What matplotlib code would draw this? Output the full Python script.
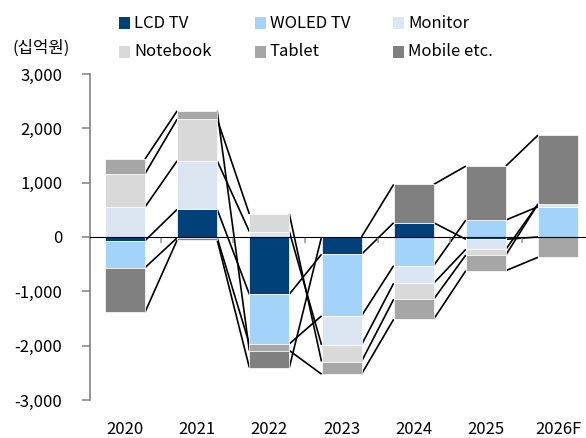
import matplotlib
matplotlib.use("Agg")
import matplotlib.pyplot as plt
from matplotlib.patches import Rectangle
from matplotlib.ticker import FuncFormatter
import numpy as np

plt.rcParams['font.family'] = ['Noto Sans CJK KR', 'DejaVu Sans']

years = ['2020', '2021', '2022', '2023', '2024', '2025', '2026F']
series_names = ['LCD TV', 'WOLED TV', 'Monitor', 'Notebook', 'Tablet', 'Mobile etc.']
lcd      = [-68,   509, -1053,  -318,  263,  -42,    0]
woled    = [-496,  -15,  -914, -1134, -527,  312,  557]
monitor  = [551,   894,   100,  -533, -324, -184,   50]
notebook = [613,   766,   323,  -307, -294, -105,    0]
tablet   = [270,   153,  -123,  -232, -368, -288, -373]
mobile   = [-820,  -40,  -312,     0,  705,  993, 1268]
colors = ['#004179', '#A3D3F8', '#DCE6F2', '#D9D9D9', '#A6A6A6', '#808080']
unit_label = '(십억원)'
yticks = [-3000, -2000, -1000, 0, 1000, 2000, 3000]

data = [lcd, woled, monitor, notebook, tablet, mobile]

W, H = 586, 438
fig = plt.figure(figsize=(W / 100, H / 100), dpi=100)
ax = fig.add_axes([90 / W, 1 - 400 / H, (586 - 90) / W, (400 - 74) / H])

x = np.arange(len(years))
bw = 0.554
pos = np.zeros(len(years))
neg = np.zeros(len(years))
ends = []
for vals, c in zip(data, colors):
    v = np.array(vals, dtype=float)
    bottom = np.where(v >= 0, pos, neg)
    ax.bar(x, v, bw, bottom=bottom, color=c, edgecolor='white', linewidth=0.5, zorder=2)
    end = bottom + v
    ends.append(end)
    pos = np.where(v >= 0, pos + v, pos)
    neg = np.where(v < 0, neg + v, neg)

for end in ends:
    for i in range(len(years) - 1):
        ax.plot([x[i] + bw / 2, x[i + 1] - bw / 2], [end[i], end[i + 1]],
                color='black', linewidth=1.2, zorder=1, solid_capstyle='butt')

ax.set_ylim(-3000, 3000)
ax.set_xlim((90 - 125) / 72.17, (586 - 125) / 72.17)
ax.set_yticks(yticks)
ax.yaxis.set_major_formatter(FuncFormatter(lambda v, p: f'{int(v):,}'))
ax.tick_params(axis='y', direction='out', length=6, width=1.1, color='#808080',
               labelsize=12, pad=14, labelcolor='black')
for s in ['top', 'right', 'bottom']:
    ax.spines[s].set_visible(False)
ax.spines['left'].set_color('#808080')
ax.spines['left'].set_linewidth(1.2)

ax.set_xticks(x)
ax.set_xticklabels(years)
ax.tick_params(axis='x', length=0, labelsize=12, pad=15)

sec = ax.secondary_xaxis(0.5)
sec.set_xticks(x[:-1] + 0.5)
sec.set_xticklabels([])
sec.tick_params(direction='in', length=4, width=1.1, color='#959595')
sec.spines['bottom'].set_color('#959595')
sec.spines['bottom'].set_linewidth(1.6)
sec.set_zorder(3)

fig.text(12 / W, 1 - 48 / H, unit_label, fontsize=12, va='center', ha='left')

leg_x = [119, 255, 393]
leg_y = [23, 52]
for k, (name, c) in enumerate(zip(series_names, colors)):
    r, col = divmod(k, 3)
    px, py = leg_x[col], leg_y[r]
    fig.add_artist(Rectangle((px / W, 1 - (py + 5.5) / H), 11 / W, 11 / H,
                             transform=fig.transFigure, color=c, lw=0))
    fig.text((px + 15) / W, 1 - py / H, name, fontsize=12, va='center', ha='left')

fig.savefig('out.png', dpi=100)
